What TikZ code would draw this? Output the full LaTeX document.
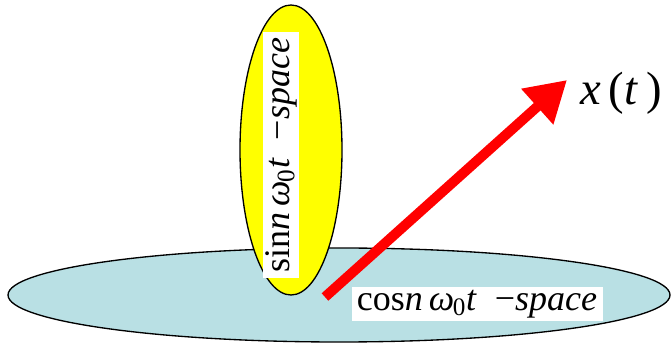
\documentclass[tikz,border=0pt]{standalone}
\usepackage{fontspec}
\setmainfont{Liberation Serif}
\usetikzlibrary{arrows.meta}
\definecolor{bleuclair}{RGB}{185,224,228}
\definecolor{jaunevif}{RGB}{255,255,0}
\newcommand{\espacelab}[1]{#1\textit{n\,ω}\kern-1pt\textsubscript{0}\textit{t}\enspace−\textit{space}}

\begin{document}
\begin{tikzpicture}[x=0.75pt, y=-0.75pt, font=\fontsize{27}{31}\selectfont,
    etiquette/.style={fill=white, inner xsep=4pt, inner ysep=2pt}]
    \useasboundingbox (0,0) rectangle (672,349);
    % plan horizontal
    \draw[fill=bleuclair, line width=1pt] (339,295) ellipse [x radius=331, y radius=47];
    % plan vertical
    \draw[fill=jaunevif, line width=1pt] (291,150) ellipse [x radius=51, y radius=145];
    \node[etiquette, rotate=90] (sinlab) at (281,155) {\espacelab{sin}};
    \node[etiquette] (coslab) at (477,304) {\espacelab{cos}};
    % vecteur x(t)
    \coordinate (depart) at (325,297);
    \coordinate (pointe) at (567,80);
    \draw[red, line width=7.5pt, -{Triangle[length=30pt, width=34pt]}] (depart) -- (pointe);
    \node (xlab) at (621,93) {\fontsize{35}{39}\selectfont\textit{x}\,(\textit{t}\,)};
\end{tikzpicture}
\end{document}
